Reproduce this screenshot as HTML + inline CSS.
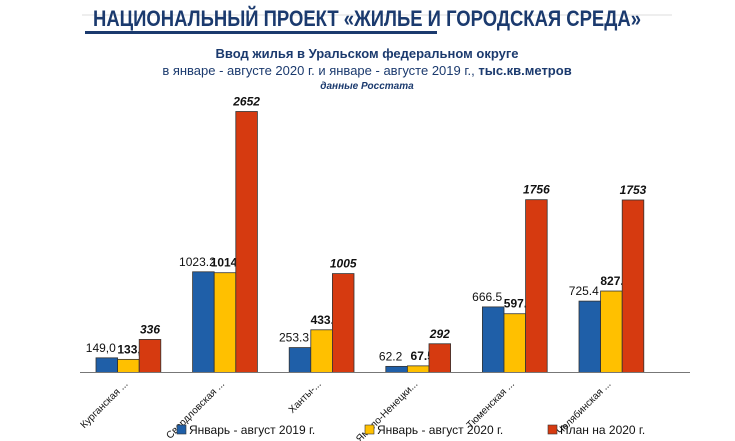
<!DOCTYPE html>
<html><head><meta charset="utf-8"><style>
body{margin:0;background:#fff;width:735px;height:441px;overflow:hidden;font-family:"Liberation Sans","Noto Sans CJK SC",sans-serif}
svg{display:block}
</style></head><body>
<svg id="c" width="735" height="441">
<line x1="82" y1="15" x2="672" y2="15" stroke="#eee" stroke-width="2"/>
<text x="367" y="26" text-anchor="middle" font-size="22" font-weight="bold" fill="#1b3a6e" textLength="548" lengthAdjust="spacingAndGlyphs">НАЦИОНАЛЬНЫЙ ПРОЕКТ «ЖИЛЬЕ И ГОРОДСКАЯ СРЕДА»</text>
<rect x="85" y="31" width="352" height="3" fill="#1b3a6e"/>
<text x="367" y="58" text-anchor="middle" font-size="13" font-weight="bold" fill="#1b3a6e">Ввод жилья в Уральском федеральном округе</text>
<text x="367" y="75" text-anchor="middle" font-size="13" fill="#1b3a6e">в январе - августе 2020 г. и январе - августе 2019 г., <tspan font-weight="bold">тыс.кв.метров</tspan></text>
<text x="367" y="89" text-anchor="middle" font-size="10" font-weight="bold" font-style="italic" fill="#1b3a6e">данные Росстата</text>
<g id="plot"></g>
</svg>
<script>
const categories=["Курганская ...","Свердловская ...","Ханты-...","Ямало-Ненецки...","Тюменская ...","Челябинская ..."];
const series2019=[149.0,1023.2,253.3,62.2,666.5,725.4];
const series2020=[133.4,1014.0,433.9,67.5,597.2,827.9];
const seriesPlan=[336,2652,1005,292,1756,1753];
const labels2019=["149,0","1023.2","253.3","62.2","666.5","725.4"];
const labels2020=["133,4","1014.0","433.9","67.5","597.2","827.9"];
const labelsPlan=["336","2652","1005","292","1756","1753"];
const legendNames=["Январь - август 2019 г.","Январь - август 2020 г.","План на 2020 г."];
const NS="http://www.w3.org/2000/svg";
const g=document.getElementById('plot');
const base=372.5, scale=261/2652, x0=96, step=96.6, bw=21.6;
const y=v=>base-v*scale;
const xb=(i,s)=>x0+i*step+s*bw;
function mk(t,a){const e=document.createElementNS(NS,t);for(const k in a)e.setAttribute(k,a[k]);g.appendChild(e);return e;}
const colors=["#1f5fa8","#ffc000","#d63a10"];
const data=[series2019,series2020,seriesPlan];
const labs=[labels2019,labels2020,labelsPlan];
const keys=["2019","2020","plan"];
categories.forEach((c,i)=>{
  data.forEach((s,k)=>{
    const r=mk('rect',{x:xb(i,k),y:y(s[i]),width:bw,height:s[i]*scale,fill:colors[k],stroke:"#333","stroke-width":0.8});
    
    
    const t=mk('text',{x:xb(i,k)+bw/2+(k==0?-6:k==1?4:0),y:y(s[i])-6,"text-anchor":"middle","font-size":12,fill:"#111"});
    if(k>0)t.setAttribute('font-weight','bold');
    if(k==2)t.setAttribute('font-style','italic');
    t.textContent=labs[k][i];
    
    
  });
  const cx=x0+i*step+bw*1.5;
  const t=mk('text',{x:cx,y:base+12,"text-anchor":"end","font-size":10,fill:"#111",transform:`rotate(-45 ${cx} ${base+12})`});
  t.textContent=categories[i];
  
  
});
const ax=mk('line',{x1:80,y1:base,x2:690,y2:base,stroke:"#777","stroke-width":1});


const lx=[177,365,548];
legendNames.forEach((n,k)=>{
  const r=mk('rect',{x:lx[k],y:425,width:9,height:9,fill:colors[k],stroke:"#333","stroke-width":0.6});
  
  
  const t=mk('text',{x:lx[k]+12,y:434,"font-size":12,fill:"#111"});
  t.textContent=n;
  
  
});
</script>
</body></html>
